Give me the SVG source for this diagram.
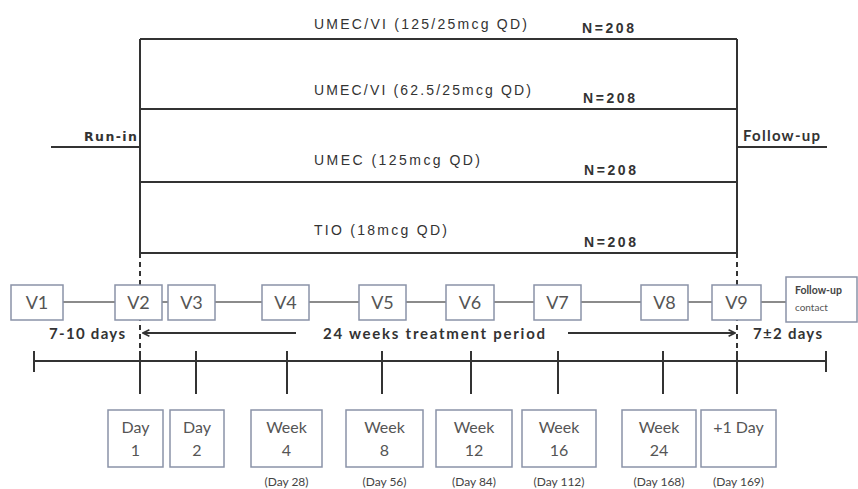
<svg xmlns="http://www.w3.org/2000/svg" width="858" height="489" viewBox="0 0 858 489">
<style>
.ln{stroke:#333;stroke-width:2;fill:none}
.thin{stroke:#666;stroke-width:1.3;fill:none}
.dash{stroke:#333;stroke-width:2;stroke-dasharray:5 4;fill:none}
.box{fill:#fff;stroke:#8a93a8;stroke-width:1.5}
.arm{font-family:"Liberation Sans",Arial,sans-serif;font-size:14px;fill:#333}
.n{font-family:"Liberation Sans",Arial,sans-serif;font-size:14px;font-weight:bold;fill:#333}
.lbl{font-family:"DejaVu Sans",sans-serif;font-size:12.5px;font-weight:bold;fill:#333}
.v{font-family:Lato,"Open Sans",sans-serif;font-size:18px;fill:#555;text-anchor:middle}
.d{font-family:Lato,"Open Sans",sans-serif;font-size:16px;fill:#555;text-anchor:middle}
.sub{font-family:Lato,"Open Sans",sans-serif;font-size:12px;fill:#444;text-anchor:middle}
.b{font-family:Lato,"Open Sans",sans-serif;font-size:15px;font-weight:bold;fill:#333}
</style>
<defs>
<marker id="ah" viewBox="0 0 10 10" refX="9" refY="5" markerWidth="8" markerHeight="8" orient="auto-start-reverse" markerUnits="userSpaceOnUse">
<path d="M1,1 L9,5 L1,9" fill="none" stroke="#333" stroke-width="2"/>
</marker>
</defs>

<g id="arms">
<path class="ln" d="M140,39 H737 M140,109 H737 M140,182 H737 M140,253 H737 M140,39 V253 M737,39 V253"/>
<text class="arm" x="314" y="29" textLength="213" lengthAdjust="spacing">UMEC/VI (125/25mcg QD)</text>
<text class="arm" x="314" y="95" textLength="217" lengthAdjust="spacing">UMEC/VI (62.5/25mcg QD)</text>
<text class="arm" x="314" y="165" textLength="166" lengthAdjust="spacing">UMEC (125mcg QD)</text>
<text class="arm" x="314" y="235" textLength="133" lengthAdjust="spacing">TIO (18mcg QD)</text>
<text class="n" x="582" y="33" textLength="52" lengthAdjust="spacing">N=208</text>
<text class="n" x="583" y="103" textLength="52" lengthAdjust="spacing">N=208</text>
<text class="n" x="584" y="175" textLength="52" lengthAdjust="spacing">N=208</text>
<text class="n" x="584" y="247" textLength="52" lengthAdjust="spacing">N=208</text>
</g>

<g id="runin">
<path class="ln" d="M51,147 H140"/>
<text class="lbl" x="84" y="141" textLength="53" lengthAdjust="spacing">Run-in</text>
</g>
<g id="followup">
<path class="ln" d="M737,147 H827"/>
<text class="b" x="743" y="141" textLength="77" lengthAdjust="spacing">Follow-up</text>
</g>

<g id="connectors">
<path class="dash" d="M140,253 V351 M737,253 V351"/>
<path class="thin" d="M63,302 H115 M162,302 H168 M215,302 H262 M309,302 H359 M406,302 H446 M494,302 H534 M581,302 H641 M688,302 H712 M761,302 H786"/>
<path class="ln" d="M296,333 H143" marker-end="url(#ah)"/>
<path class="ln" d="M568,333 H735" marker-end="url(#ah)"/>
<path class="ln" d="M34,361 H826 M34,351 V372 M826,351 V372"/>
<path class="ln" d="M140,351 V394 M196,351 V394 M287,351 V394 M382,351 V394 M471,351 V394 M558,351 V394 M663,351 V394 M737,351 V394"/>
</g>

<g id="v1"><rect class="box" x="11" y="285" width="52" height="35"/><text class="v" x="37" y="309">V1</text></g>
<g id="v2"><rect class="box" x="115" y="285" width="47" height="35"/><text class="v" x="138.5" y="309">V2</text></g>
<g id="v3"><rect class="box" x="168" y="285" width="47" height="35"/><text class="v" x="191.5" y="309">V3</text></g>
<g id="v4"><rect class="box" x="262" y="285" width="47" height="35"/><text class="v" x="285.5" y="309">V4</text></g>
<g id="v5"><rect class="box" x="359" y="285" width="47" height="35"/><text class="v" x="382.5" y="309">V5</text></g>
<g id="v6"><rect class="box" x="446" y="285" width="48" height="35"/><text class="v" x="470" y="309">V6</text></g>
<g id="v7"><rect class="box" x="534" y="285" width="47" height="35"/><text class="v" x="557.5" y="309">V7</text></g>
<g id="v8"><rect class="box" x="641" y="285" width="47" height="35"/><text class="v" x="664.5" y="309">V8</text></g>
<g id="v9"><rect class="box" x="712" y="285" width="49" height="35"/><text class="v" x="736.5" y="309">V9</text></g>
<g id="fu-contact"><rect class="box" x="786" y="277" width="71" height="45"/>
<text x="795" y="294" font-family="Lato,sans-serif" font-size="10.5" font-weight="bold" fill="#444">Follow-up</text>
<text x="795" y="311" font-family="Lato,sans-serif" font-size="10" fill="#555">contact</text></g>

<g id="periods">
<text class="b" x="49" y="339" textLength="76" lengthAdjust="spacing">7-10 days</text>
<text class="b" x="323" y="339" textLength="222" lengthAdjust="spacing">24 weeks treatment period</text>
<text class="b" x="753" y="339" textLength="69" lengthAdjust="spacing">7±2 days</text>
</g>

<g id="day1"><rect class="box" x="108" y="410" width="55" height="57"/><text class="d" x="135.5" y="433">Day</text><text class="d" x="135.5" y="456">1</text></g>
<g id="day2"><rect class="box" x="170" y="410" width="54" height="57"/><text class="d" x="197" y="433">Day</text><text class="d" x="197" y="456">2</text></g>
<g id="week4"><rect class="box" x="251" y="410" width="71" height="57"/><text class="d" x="286.5" y="433">Week</text><text class="d" x="286.5" y="456">4</text><text class="sub" x="286.5" y="486">(Day 28)</text></g>
<g id="week8"><rect class="box" x="346" y="410" width="77" height="57"/><text class="d" x="384.5" y="433">Week</text><text class="d" x="384.5" y="456">8</text><text class="sub" x="384.5" y="486">(Day 56)</text></g>
<g id="week12"><rect class="box" x="436" y="410" width="76" height="57"/><text class="d" x="474" y="433">Week</text><text class="d" x="474" y="456">12</text><text class="sub" x="474" y="486">(Day 84)</text></g>
<g id="week16"><rect class="box" x="522" y="410" width="74" height="57"/><text class="d" x="559" y="433">Week</text><text class="d" x="559" y="456">16</text><text class="sub" x="559" y="486">(Day 112)</text></g>
<g id="week24"><rect class="box" x="622" y="410" width="74" height="57"/><text class="d" x="659" y="433">Week</text><text class="d" x="659" y="456">24</text><text class="sub" x="659" y="486">(Day 168)</text></g>
<g id="plus1"><rect class="box" x="701" y="410" width="75" height="57"/><text class="d" x="738.5" y="433">+1 Day</text><text class="sub" x="738.5" y="486">(Day 169)</text></g>
</svg>
